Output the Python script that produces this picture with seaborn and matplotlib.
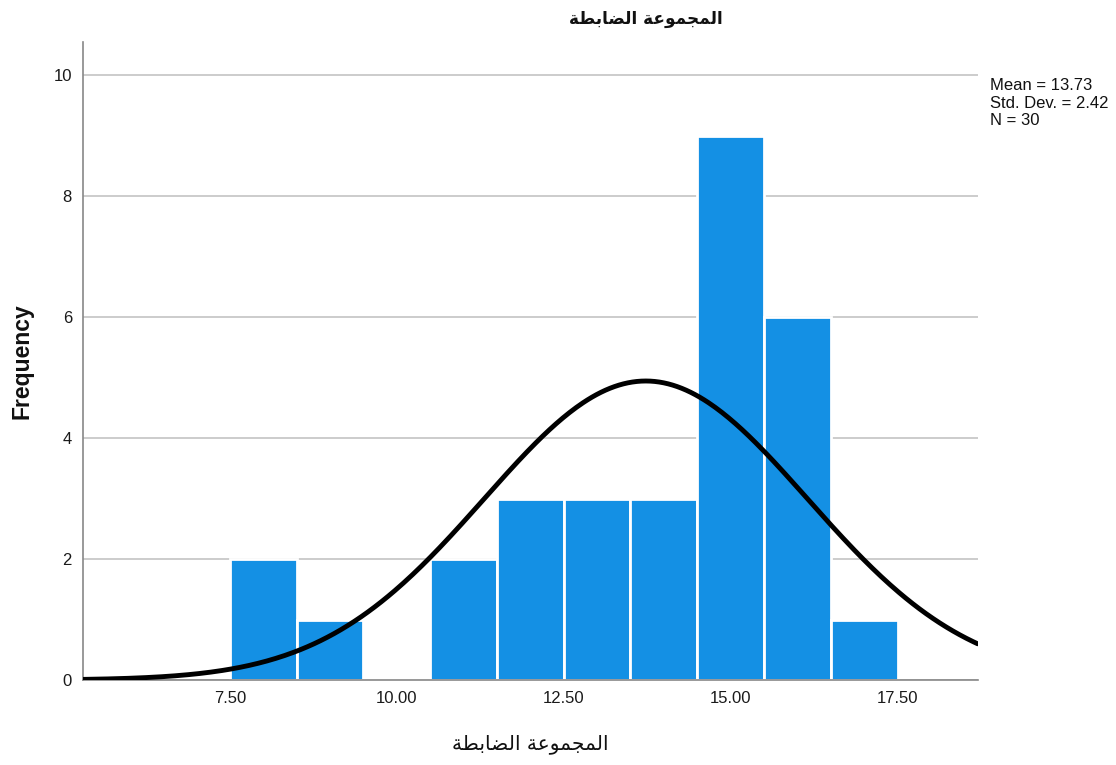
import numpy as np
import pandas as pd
import matplotlib
matplotlib.use("Agg")
import matplotlib.pyplot as plt
import seaborn as sns

# ---- data ----
bin_centers = [8, 9, 10, 11, 12, 13, 14, 15, 16, 17]
bin_counts = [2, 1, 0, 2, 3, 3, 3, 9, 6, 1]
bin_edges = [7.5, 8.5, 9.5, 10.5, 11.5, 12.5, 13.5, 14.5, 15.5, 16.5, 17.5]
x_ticks = [7.5, 10.0, 12.5, 15.0, 17.5]
x_tick_labels = ["7.50", "10.00", "12.50", "15.00", "17.50"]
y_ticks = [0, 2, 4, 6, 8, 10]
mean_val = 13.73
sd_val = 2.42
n_val = 30
title_text = "المجموعة الضابطة"
xlabel_text = "المجموعة الضابطة"
ylabel_text = "Frequency"

# ---- minimal Arabic shaping (presentation forms, visual order) ----
FORMS = {
    'ا': ('\uFE8D', '\uFE8E', None, None),
    'ل': ('\uFEDD', '\uFEDE', '\uFEDF', '\uFEE0'),
    'م': ('\uFEE1', '\uFEE2', '\uFEE3', '\uFEE4'),
    'ج': ('\uFE9D', '\uFE9E', '\uFE9F', '\uFEA0'),
    'و': ('\uFEED', '\uFEEE', None, None),
    'ع': ('\uFEC9', '\uFECA', '\uFECB', '\uFECC'),
    'ة': ('\uFE93', '\uFE94', None, None),
    'ض': ('\uFEBD', '\uFEBE', '\uFEBF', '\uFEC0'),
    'ب': ('\uFE8F', '\uFE90', '\uFE91', '\uFE92'),
    'ط': ('\uFEC1', '\uFEC2', '\uFEC3', '\uFEC4'),
}

def shape_arabic(s):
    out = []
    for i, c in enumerate(s):
        if c not in FORMS:
            out.append(c)
            continue
        prev = s[i - 1] if i > 0 else None
        nxt = s[i + 1] if i + 1 < len(s) else None
        jp = prev in FORMS and FORMS[prev][2] is not None
        jn = FORMS[c][2] is not None and nxt in FORMS
        iso, fin, ini, med = FORMS[c]
        if jp and jn:
            out.append(med)
        elif jp:
            out.append(fin)
        elif jn:
            out.append(ini)
        else:
            out.append(iso)
    return "".join(out)[::-1]

sns.set_theme(style="white")
plt.rcParams['font.family'] = ['Liberation Sans', 'DejaVu Sans']

fig = plt.figure(figsize=(11.16, 7.65), dpi=100)
ax = fig.add_axes([0.0744, 0.111, 0.8016, 0.834])

df = pd.DataFrame({"x": bin_centers, "w": bin_counts})
sns.histplot(data=df, x="x", weights="w", bins=bin_edges, ax=ax,
             color="#1490E4", alpha=1.0, edgecolor="white", linewidth=2.0, zorder=2)

xs = np.linspace(5.3, 18.7, 400)
binw = bin_edges[1] - bin_edges[0]
ys = n_val * binw / (sd_val * np.sqrt(2 * np.pi)) * np.exp(-0.5 * ((xs - mean_val) / sd_val) ** 2)
sns.lineplot(x=xs, y=ys, ax=ax, color="black", linewidth=3.5, zorder=3)

ax.set_xlim(5.3, 18.7)
ax.set_ylim(0, 10.55)
ax.set_xticks(x_ticks)
ax.set_xticklabels(x_tick_labels, fontsize=12, color="#1a1a1a")
ax.set_yticks(y_ticks)
ax.set_yticklabels([str(v) for v in y_ticks], fontsize=12, color="#1a1a1a")
ax.tick_params(axis="both", length=0, pad=8)
ax.yaxis.grid(True, color="#c4c4c4", linewidth=1.2, zorder=0)
ax.set_axisbelow(True)
for side in ["top", "right"]:
    ax.spines[side].set_visible(False)
for side in ["left", "bottom"]:
    ax.spines[side].set_color("#888888")
    ax.spines[side].set_linewidth(1.2)

ax.set_ylabel(ylabel_text, fontsize=16.5, fontweight="bold", labelpad=14, color="#111111")
ax.set_xlabel(shape_arabic(xlabel_text), fontsize=14.5, labelpad=20,
              family=['DejaVu Sans'], color="#111111")
fig.text(0.579, 0.975, shape_arabic(title_text), fontsize=12.2, fontweight="bold",
         ha="center", va="center", family=['DejaVu Sans'], color="#111111")

stats = f"Mean = {mean_val:.2f}\nStd. Dev. = {sd_val:.2f}\nN = {n_val}"
fig.text(0.887, 0.898, stats, fontsize=12, va="top", ha="left",
         linespacing=1.22, color="#111111")

fig.savefig("out.png", dpi=100)
